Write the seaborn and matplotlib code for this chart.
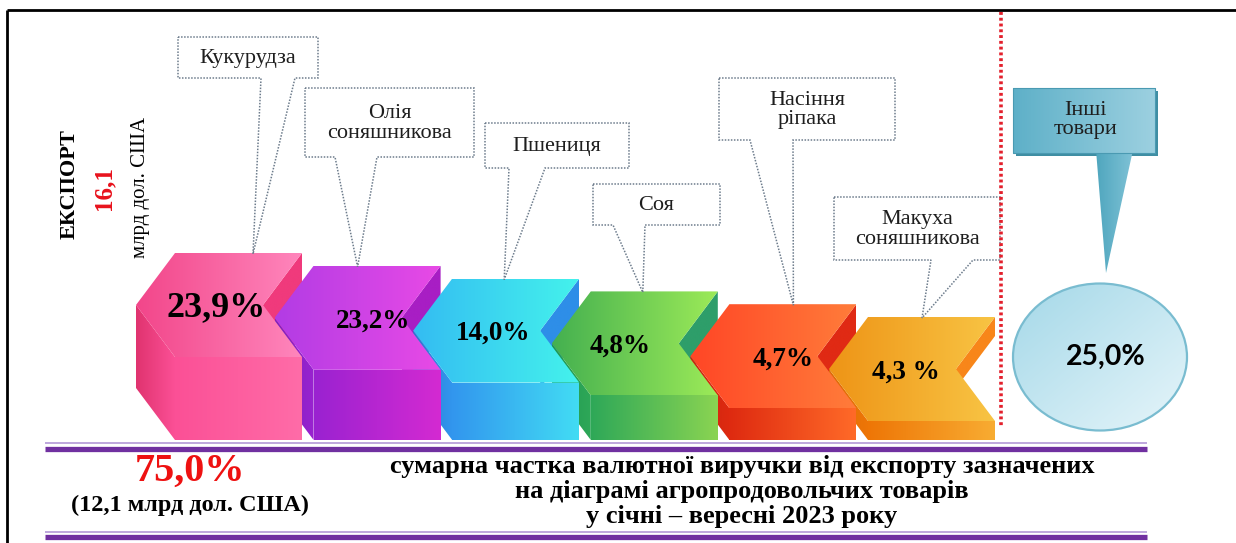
import numpy as np
import matplotlib
matplotlib.use("Agg")
import matplotlib.pyplot as plt
from matplotlib.patches import Polygon, Ellipse, Rectangle, PathPatch
from matplotlib.path import Path
from matplotlib.colors import LinearSegmentedColormap
import seaborn as sns

# ---------------- data ----------------
categories = ["Кукурудза", "Олія\nсоняшникова", "Пшениця", "Соя",
              "Насіння\nріпака", "Макуха\nсоняшникова"]
shares = [23.9, 23.2, 14.0, 4.8, 4.7, 4.3]
share_labels = ["23,9%", "23,2%", "14,0%", "4,8%", "4,7%", "4,3 %"]
other_category = "Інші\nтовари"
other_share = 25.0
other_label = "25,0%"
export_total = "16,1"
export_title = "ЕКСПОРТ"
export_unit = "млрд дол. США"
sum_share_label = "75,0%"
sum_value_label = "(12,1 млрд дол. США)"
caption_lines = ["сумарна частка валютної виручки від експорту зазначених",
                 "на діаграмі агропродовольчих товарів",
                 "у січні – вересні 2023 року"]

# block colours: (top left, top right, front left, front right, side, wall)
block_colors = [
    ("#f2468a", "#ff86bc", "#fb5096", "#ff6ca8", "#e0336f", "#f03a7c"),
    ("#b23ce4", "#e84ae6", "#9a22d0", "#d42ad2", "#7c22bc", "#a81ec4"),
    ("#34bcf2", "#44f2ec", "#3296ee", "#42dcf4", "#2a7ace", "#2e8ee8"),
    ("#44b050", "#9cea58", "#2ea858", "#8ad452", "#209650", "#2e9e6a"),
    ("#ff4626", "#ff7c3a", "#de2a10", "#ff6a28", "#c82410", "#e02a14"),
    ("#ee9416", "#f8c444", "#ee7606", "#f8ac32", "#dc6a08", "#f8861a"),
]
palette = sns.color_palette([c[0] for c in block_colors])

sns.set_theme(style="white")
plt.rcParams["font.family"] = ["Liberation Serif", "DejaVu Serif"]

W, H = 1236, 543
fig = plt.figure(figsize=(W / 100, H / 100), dpi=100)
ax = fig.add_axes([0, 0, 1, 1])
ax.set_facecolor("white")


def grad_poly(verts, c0, c1, z, vertical=False):
    poly = Polygon(verts, closed=True, facecolor="none", edgecolor="none", zorder=z)
    ax.add_patch(poly)
    xs = [v[0] for v in verts]
    ys = [v[1] for v in verts]
    cmap = LinearSegmentedColormap.from_list("g", [c0, c1])
    g = np.linspace(0, 1, 256)
    g = g.reshape(-1, 1) if vertical else g.reshape(1, -1)
    im = ax.imshow(g, extent=(min(xs), max(xs), max(ys), min(ys)), cmap=cmap,
                   aspect="auto", zorder=z, interpolation="bilinear")
    im.set_clip_path(poly)
    return poly


# ---------------- frame ----------------
ax.plot([7, W], [10, 10], color="black", lw=2, zorder=1, solid_capstyle="butt")
ax.plot([7, 7], [10, H], color="black", lw=2, zorder=1, solid_capstyle="butt")

# ---------------- blocks ----------------
base_y = 440
step_x, step_y = 138.6, 12.8
R0, T0 = 302, 253
top_w, arm, depth_face = 127, 39, 104
label_dx = [0, 18, 0, -12, 13, -3]
n = len(shares)
for i in range(n):
    c = block_colors[i]
    R = R0 + step_x * i
    T = T0 + step_y * i
    L = R - top_w
    mid = T + depth_face / 2
    bot = T + depth_face
    D = base_y - bot
    wall = [(R, T), (R - arm, mid), (R - arm, mid + D), (R, T + D)]
    grad_poly(wall, c[5], c[5], 2)
    side = [(L - arm, mid), (L, bot), (L, base_y), (L - arm, base_y - depth_face / 2)]
    grad_poly(side, c[4], c[2], 3)
    top = [(L, T), (R, T), (R - arm, mid), (R, bot), (L, bot), (L - arm, mid)]
    grad_poly(top, c[0], c[1], 4)
    front = [(L, bot), (R, bot), (R, base_y), (L, base_y)]
    grad_poly(front, c[2], c[3], 5)
    ax.text((L - arm + R) / 2 - 3 + label_dx[i], T + 55, share_labels[i],
            fontsize=26 if i == 0 else 19.5, fontweight="bold", color="black",
            ha="center", va="center", zorder=8)

# ---------------- callouts ----------------
callout_boxes = [(178, 37, 318, 78), (305, 88, 474, 157), (485, 123, 629, 168),
                 (593, 184, 720, 225), (719, 78, 895, 140), (834, 197, 1000, 260)]
callout_bases = [(261, 295), (335, 377), (509, 545), (613, 645), (750, 793), (931, 973)]
callout_tip_dx = [78, 44, 52, 52, 64, 54]
for i in range(n):
    x0, y0, x1, y1 = callout_boxes[i]
    b1, b2 = callout_bases[i]
    L = R0 + step_x * i - top_w
    T = T0 + step_y * i
    tip = (L + callout_tip_dx[i], T + 1)
    verts = [(x0, y0), (x1, y0), (x1, y1), (b2, y1), tip, (b1, y1), (x0, y1), (x0, y0)]
    codes = [Path.MOVETO] + [Path.LINETO] * 6 + [Path.CLOSEPOLY]
    pp = PathPatch(Path(verts, codes), facecolor="white", edgecolor="#6d7c8c",
                   lw=1.1, linestyle=(0, (1, 1)), zorder=6)
    ax.add_patch(pp)
    ax.text((x0 + x1) / 2, (y0 + y1) / 2 + 1, categories[i], fontsize=16,
            color="#1e1e1e", ha="center", va="center", linespacing=1.05, zorder=7)

# ---------------- separator ----------------
ax.plot([1001, 1001], [12, 427], color="#e3202c", lw=2.6, linestyle=(0, (0.8, 0.8)),
        zorder=6)

# ---------------- other goods ----------------
ax.add_patch(Rectangle((1016, 91), 142, 65, facecolor="#3f8ea3", edgecolor="none",
                       zorder=5))
grad_poly([(1096, 150), (1133, 150), (1106, 273)], "#4fa6be", "#7fc2d6", 6)
grad_poly([(1013, 88), (1155, 88), (1155, 153), (1013, 153)], "#5eb0c8", "#9cd0e0", 6)
ax.plot([1013, 1155, 1155, 1013, 1013], [88, 88, 153, 153, 88], color="#4a9ab2",
        lw=0.8, zorder=7)
ax.text(1085, 120, other_category, fontsize=16, color="#1e1e1e", ha="center",
        va="center", linespacing=1.05, zorder=8)

ell = Ellipse((1100, 357), 174, 147, facecolor="none", edgecolor="none", zorder=6)
ax.add_patch(ell)
cmap_e = LinearSegmentedColormap.from_list("e", ["#a4d8e8", "#e6f5fa"])
gx, gy = np.meshgrid(np.linspace(0, 1, 128), np.linspace(0, 1, 128))
im = ax.imshow((gx + gy) / 2, extent=(1013, 1187, 430, 283), cmap=cmap_e,
               aspect="auto", zorder=6, interpolation="bilinear")
im.set_clip_path(ell)
ax.add_patch(Ellipse((1100, 357), 174, 147, facecolor="none", edgecolor="#79bcd0",
                     lw=1.6, zorder=7))
ax.text(1106, 357, other_label, fontsize=20.5, fontweight="bold", color="black",
        family=["Lato", "DejaVu Sans"], ha="center", va="center", zorder=8)

# ---------------- left vertical texts ----------------
ax.text(70, 184, export_title, rotation=90, fontsize=16, fontweight="bold",
        color="black", ha="center", va="center")
ax.text(104, 188, export_total, rotation=90, fontsize=18, fontweight="bold",
        color="#e8121c", ha="center", va="center")
ax.text(140, 187, export_unit, rotation=90, fontsize=15, color="black",
        ha="center", va="center")

# ---------------- bottom band ----------------
for yt, yb in [(443, 448.5), (532, 537)]:
    ax.plot([45, 1147], [yt, yt], color="#b9a0da", lw=1.3, zorder=3,
            solid_capstyle="butt")
    ax.plot([45, 1147], [yb, yb], color="#7030a0", lw=3.8, zorder=3,
            solid_capstyle="butt")

ax.text(190, 471, sum_share_label, fontsize=29, fontweight="bold", color="#ee1111",
        ha="center", va="center")
ax.text(190, 505, sum_value_label, fontsize=17.5, fontweight="bold", color="black",
        ha="center", va="center")
for k, line in enumerate(caption_lines):
    ax.text(742, 467 + 24.5 * k, line, fontsize=19, fontweight="bold", color="black",
            ha="center", va="center")

ax.set_xlim(0, W)
ax.set_ylim(H, 0)
ax.axis("off")
fig.savefig("out.png", dpi=100, facecolor="white")
